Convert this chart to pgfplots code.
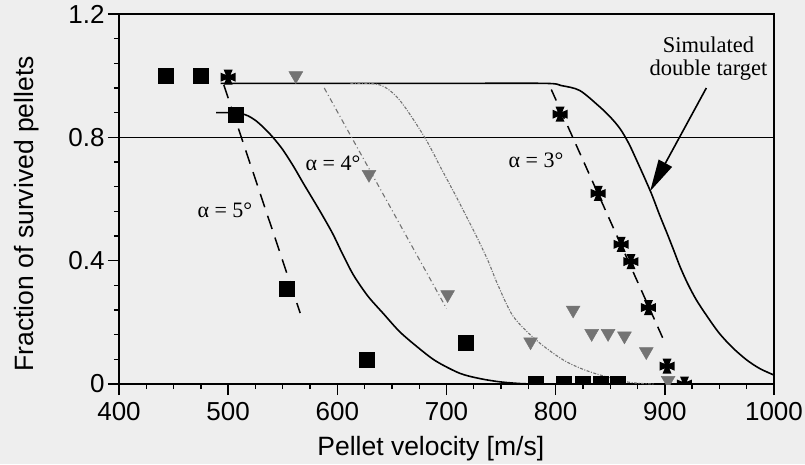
\documentclass[border=0pt]{standalone}
\usepackage{pgfplots}
\pgfplotsset{compat=1.18}
\usepackage{fontspec}
\setmainfont{Liberation Sans}
\newfontfamily\serif{Liberation Serif}
\usetikzlibrary{arrows.meta}

% cross pattee mark for the alpha = 3 deg data
\pgfdeclareplotmark{pattee}{%
  \pgfpathmoveto{\pgfpoint{0.3\pgfplotmarksize}{0.3\pgfplotmarksize}}%
  \pgfpathlineto{\pgfpoint{0.6\pgfplotmarksize}{\pgfplotmarksize}}%
  \pgfpathlineto{\pgfpoint{-0.6\pgfplotmarksize}{\pgfplotmarksize}}%
  \pgfpathlineto{\pgfpoint{-0.3\pgfplotmarksize}{0.3\pgfplotmarksize}}%
  \pgfpathlineto{\pgfpoint{-\pgfplotmarksize}{0.6\pgfplotmarksize}}%
  \pgfpathlineto{\pgfpoint{-\pgfplotmarksize}{-0.6\pgfplotmarksize}}%
  \pgfpathlineto{\pgfpoint{-0.3\pgfplotmarksize}{-0.3\pgfplotmarksize}}%
  \pgfpathlineto{\pgfpoint{-0.6\pgfplotmarksize}{-\pgfplotmarksize}}%
  \pgfpathlineto{\pgfpoint{0.6\pgfplotmarksize}{-\pgfplotmarksize}}%
  \pgfpathlineto{\pgfpoint{0.3\pgfplotmarksize}{-0.3\pgfplotmarksize}}%
  \pgfpathlineto{\pgfpoint{\pgfplotmarksize}{-0.6\pgfplotmarksize}}%
  \pgfpathlineto{\pgfpoint{\pgfplotmarksize}{0.6\pgfplotmarksize}}%
  \pgfpathclose\pgfusepathqfill}

\definecolor{trigray}{RGB}{115,115,115}
\definecolor{bg}{RGB}{238,238,238}

\begin{document}
\begin{tikzpicture}
\fill[bg] (-119pt,-80pt) rectangle (686pt,384pt);
\path[use as bounding box] (-119pt,-80pt) rectangle (686pt,384pt);
\begin{axis}[
  at={(0,0)}, anchor=south west,
  scale only axis, width=655pt, height=370pt,
  xmin=400, xmax=1000, ymin=0, ymax=1.2,
  xtick={400,500,...,1000}, ytick={0,0.4,0.8,1.2},
  minor x tick num=3, minor y tick num=4,
  tick align=outside, tick pos=left,
  major tick length=11pt, minor tick length=5pt,
  every tick/.style={black, line width=1.4pt},
  axis line style={line width=1.9pt},
  /pgf/number format/assume math mode=true,
  /pgf/number format/1000 sep={},
  ticklabel style={font=\fontsize{26}{28}\selectfont},
  xticklabel style={yshift=-4pt},
  label style={font=\fontsize{26.5}{28}\selectfont},
  xlabel={Pellet velocity [m/s]},
  ylabel={Fraction of survived pellets},
  xlabel style={at={(axis description cs:0.476,-0.193)}, anchor=base},
  ylabel style={at={(axis description cs:-0.131,0.46)}, anchor=base, rotate=0},
  clip marker paths=true,
]
% horizontal reference line
\addplot[black, line width=1.4pt] coordinates {(400,0.8) (1000,0.8)};

% simulated double target
\addplot[black, line width=1.6pt, smooth] coordinates {
(493,0.975) (600,0.975) (700,0.975) (790,0.975) (805,0.968) (822,0.952)
(840,0.90) (850,0.866) (859,0.828) (867,0.78) (874,0.727) (881,0.672)
(888,0.615) (895,0.55) (902,0.489) (908,0.435) (914,0.38) (921,0.325)
(929,0.272) (940,0.213) (950,0.164) (962,0.118) (975,0.078) (987,0.05) (1000,0.029)};

% solid curve beside alpha = 4 deg
\addplot[black, line width=1.6pt, smooth] coordinates {
(489,0.88) (505,0.88) (512,0.877) (518,0.87) (525,0.855) (533,0.83)
(541,0.80) (550,0.76) (560,0.705) (569,0.65) (578,0.597) (587,0.543)
(596,0.486) (605,0.42) (615,0.352) (628,0.285) (642,0.229) (657,0.17)
(673,0.121) (690,0.075) (712,0.035) (730,0.018) (749,0.007) (770,0.001) (790,0)};

% gray dotted curve
\addplot[trigray, line width=1.1pt, dash pattern=on 3pt off 1.5pt on 1pt off 1.5pt, smooth] coordinates {
(612,0.975) (639,0.97) (657,0.921) (680,0.80) (695,0.70) (709,0.607)
(718,0.545) (728,0.475) (738,0.40) (747,0.322) (761,0.22) (782,0.143)
(807,0.078) (831,0.04) (865,0.007) (890,0)};

% gray dash-dot straight line
\addplot[trigray, line width=1.1pt, dash pattern=on 5pt off 3pt on 1pt off 3pt] coordinates {
(588,0.96) (700,0.245)};

% dashed lines
\addplot[black, line width=1.5pt, dash pattern=on 14pt off 9pt] coordinates {
(496,0.97) (566,0.23)};
\addplot[black, line width=1.5pt, dash pattern=on 12pt off 8pt] coordinates {
(796,0.955) (898,0.15)};

% squares
\addplot[only marks, mark=square*, mark size=7.5pt, black] coordinates {
(443,1.0) (475,1.0) (507,0.875) (554,0.31) (627,0.078) (718,0.135)
(782,0) (807,0) (825,0) (841,0) (857,0)};

% triangles
\addplot[only marks, mark=triangle*, mark size=8pt, trigray,
  mark options={rotate=180}] coordinates {
(562,1.0) (629,0.68) (701,0.29) (777,0.137) (816,0.24) (833,0.164)
(848,0.164) (863,0.156) (883,0.105) (903,0.012)};

% crosses
\addplot[only marks, mark=pattee, mark size=7.5pt, black] coordinates {
(500,0.995) (804,0.875) (839,0.618) (860,0.453) (869,0.397) (885,0.248)
(902,0.058) (918,0)};

\node[font=\serif\fontsize{22}{24}\selectfont] at (axis cs:497,0.564) {α = 5°};
\node[font=\serif\fontsize{22}{24}\selectfont] at (axis cs:596,0.716) {α = 4°};
\node[font=\serif\fontsize{22}{24}\selectfont] at (axis cs:782,0.727) {α = 3°};
\node[font=\serif\fontsize{22.5}{23}\selectfont, align=center] at (axis cs:940,1.055)
  {Simulated\\double target};
\draw[black, line width=1.6pt, -{Triangle[length=32pt,width=15pt]}]
  (axis cs:938,0.96) -- (axis cs:886.5,0.625);
\end{axis}
\end{tikzpicture}
\end{document}
